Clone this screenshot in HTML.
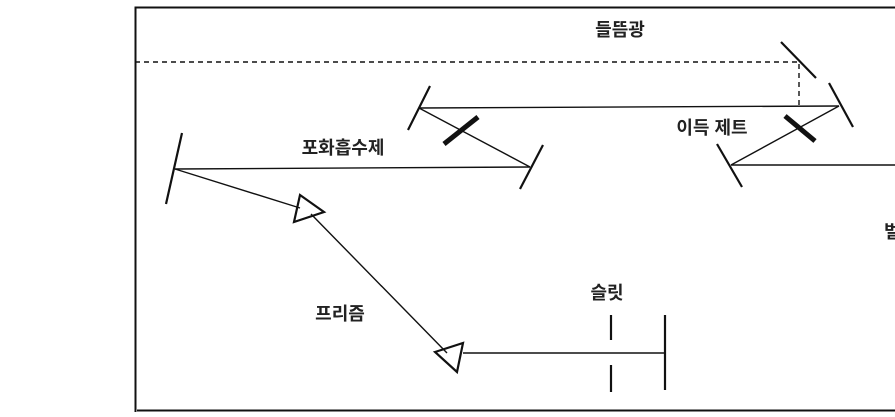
<!DOCTYPE html>
<html><head><meta charset="utf-8"><style>
body{margin:0;background:#fff}
svg text{font-family:"Liberation Sans","Noto Sans CJK KR",sans-serif;font-size:18px;font-weight:bold;fill:#222}
</style></head><body>
<svg width="895" height="412" xmlns="http://www.w3.org/2000/svg">
<g stroke="#111" fill="none">
<path d="M135.5 412 V7.5 H895" stroke-width="2"/>
<path d="M137 410.5 H895" stroke-width="2"/>
<path d="M135 62 H799 V108" stroke-width="1.4" stroke-dasharray="5,4"/>
<g stroke-width="1.4">
<line x1="175" y1="169" x2="530" y2="167"/>
<line x1="419" y1="108" x2="839" y2="106"/>
<line x1="419" y1="108" x2="530" y2="167"/>
<line x1="839" y1="106" x2="731" y2="165"/>
<line x1="731" y1="165" x2="895" y2="165"/>
<line x1="175" y1="169" x2="300" y2="208"/>
<line x1="311" y1="214" x2="447" y2="353"/>
<line x1="463" y1="353" x2="665" y2="353"/>
</g>
<g stroke-width="2.2">
<line x1="166" y1="204" x2="182" y2="133"/>
<line x1="520" y1="189" x2="543" y2="145"/>
<line x1="408" y1="130" x2="430" y2="86"/>
<line x1="781" y1="42" x2="816" y2="78"/>
<line x1="829" y1="83" x2="853" y2="127"/>
<line x1="717" y1="144" x2="742" y2="187"/>
<line x1="665" y1="315" x2="665" y2="390"/>
<line x1="611" y1="315" x2="611" y2="340"/>
<line x1="611" y1="365" x2="611" y2="392"/>
<polygon points="300,195 324,212 294,222"/>
<polygon points="435,352 463,343 457,372"/>
</g>
<line x1="444" y1="144" x2="478" y2="117" stroke-width="5"/>
<line x1="785" y1="116" x2="815" y2="141" stroke-width="5"/>
</g>
<text x="620" y="36" text-anchor="middle">들뜸광</text>
<text x="712" y="134" text-anchor="middle">이득 제트</text>
<text x="343" y="154" text-anchor="middle">포화흡수제</text>
<text x="340" y="320" text-anchor="middle">프리즘</text>
<text x="607" y="299" text-anchor="middle">슬릿</text>
<text x="884" y="238">벌</text>
</svg>
</body></html>
